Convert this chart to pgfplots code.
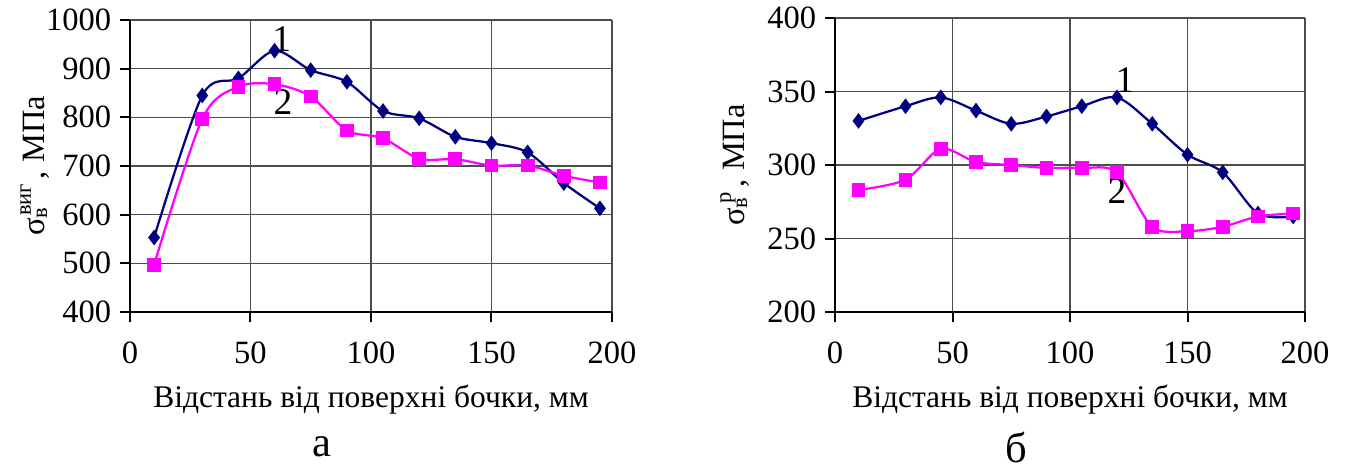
\documentclass[border=0pt]{standalone}
\usepackage{fontspec}
\setmainfont{Liberation Serif}
\usepackage{pgfplots}
\pgfplotsset{compat=1.18}

\definecolor{navyline}{RGB}{0,0,128}
\definecolor{pinkline}{RGB}{255,0,255}

\newcommand{\lowidx}[1]{\raisebox{-1pt}{\fontsize{9}{10}\selectfont #1}}
\newcommand{\upidx}[1]{\raisebox{5.5pt}{\fontsize{9}{10}\selectfont #1}}

\pgfplotsset{
  panel/.style={
    scale only axis,
    xmin=0, xmax=200,
    xtick={0,50,100,150,200},
    axis x line*=bottom,
    axis y line*=left,
    tick align=outside,
    major tick length=4pt,
    tick style={black, line width=0.8pt},
    axis line style={black, line width=1pt},
    grid=major,
    grid style={black!70, line width=0.5pt},
    clip=false,
    /pgf/number format/assume math mode=true,
    /pgf/number format/1000 sep={},
    tick label style={font=\fontsize{13}{15}\selectfont},
    xticklabel style={yshift=-4.5pt},
    label style={font=\fontsize{13}{15}\selectfont},
    xlabel={Відстань від поверхні бочки, мм},
    xlabel style={font=\fontsize{12.6}{15}\selectfont, at={(axis description cs:0.5,0)}, anchor=center, yshift=-35pt},
    ylabel style={at={(axis description cs:0,0.5)}, anchor=center},
  },
  s1/.style={navyline, line width=0.9pt, smooth, mark=diamond*, mark size=2.4pt, mark options={solid, fill=navyline}},
  s2/.style={pinkline, line width=0.9pt, smooth, mark=square*, mark size=2.3pt, mark options={solid, fill=pinkline}},
}

\begin{document}
\begin{tikzpicture}
\useasboundingbox (-52pt,-63.2pt) rectangle (486pt,124.8pt);

% panel a
\begin{axis}[panel,
    at={(0pt,0pt)}, anchor=south west,
    width=192.8pt, height=116.8pt,
    ymin=400, ymax=1000,
    ytick={400,500,600,700,800,900,1000},
    ylabel={σ\rlap{\lowidx{в}}\kern1pt\upidx{виг}\kern2pt, МПа},
    ylabel style={yshift=38pt},
]
  \addplot+[s1] coordinates {
    (10,553) (30,845) (45,880) (60,937) (75,897) (90,873) (105,813)
    (120,798) (135,760) (150,747) (165,728) (180,665) (195,613)
  };
  \addplot+[s2] coordinates {
    (10,497) (30,797) (45,863) (60,868) (75,843) (90,773) (105,757)
    (120,715) (135,714) (150,701) (165,701) (180,680) (195,666)
  };
  \node[font=\fontsize{15}{17}\selectfont] at (axis cs:63,961) {1};
  \node[font=\fontsize{15}{17}\selectfont] at (axis cs:63.5,831) {2};
\end{axis}

% panel b
\begin{axis}[panel,
    at={(282pt,0pt)}, anchor=south west,
    width=188pt, height=117.6pt,
    ymin=200, ymax=400,
    ytick={200,250,300,350,400},
    ylabel={σ\rlap{\lowidx{в}}\kern2pt\upidx{р}\kern2pt, МПа},
    ylabel style={yshift=40pt},
]
  \addplot+[s1] coordinates {
    (10,330) (30,340) (45,346) (60,337) (75,328) (90,333) (105,340)
    (120,346) (135,328) (150,307) (165,295) (180,267) (195,265)
  };
  \addplot+[s2] coordinates {
    (10,283) (30,290) (45,311) (60,302) (75,300) (90,298) (105,298)
    (120,295) (135,258) (150,255) (165,258) (180,265) (195,267)
  };
  \node[font=\fontsize{15}{17}\selectfont] at (axis cs:123.4,358) {1};
  \node[font=\fontsize{15}{17}\selectfont] at (axis cs:120,282) {2};
\end{axis}

\node[font=\fontsize{17}{19}\selectfont] at (76.8pt,-54pt) {а};
\node[font=\fontsize{17}{19}\selectfont] at (354.4pt,-54pt) {б};
\end{tikzpicture}
\end{document}
